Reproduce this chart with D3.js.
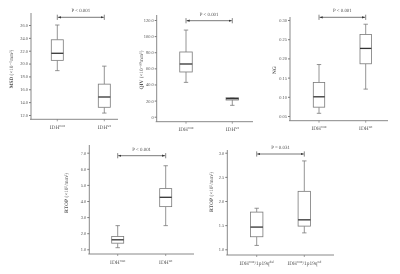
<!DOCTYPE html>
<html>
<head>
<meta charset="utf-8">
<script src="https://cdn.jsdelivr.net/npm/d3@7"></script>
<style>
  body { margin: 0; background: #fff; }
  svg { display: block; will-change: transform; }
  text { font-family: "Liberation Serif", "DejaVu Serif", serif; fill: #555; text-rendering: geometricPrecision; }
</style>
</head>
<body>
<script>
// box stats per panel: [whiskerLow, q1, median, q3, whiskerHigh]
var msdBoxes  = [[18.9, 20.5, 21.6, 23.7, 26.0], [12.3, 13.2, 14.8, 16.8, 19.6]];
var qivBoxes  = [[42.6, 55.5, 65.4, 80.3, 107.5], [14.1, 20.7, 22.4, 23.6, 23.6]];
var ngBoxes   = [[0.057, 0.073, 0.100, 0.137, 0.184], [0.120, 0.186, 0.226, 0.262, 0.289]];
var rtopBoxes = [[1.10, 1.38, 1.59, 1.79, 2.47], [2.47, 3.65, 4.23, 4.77, 6.19]];
var codelBoxes = [[1.08, 1.26, 1.46, 1.77, 1.85], [1.34, 1.48, 1.61, 2.20, 2.83]];

var msdTicks  = [12, 14, 16, 18, 20, 22, 24, 26];
var qivTicks  = [0, 20, 40, 60, 80, 100, 120];
var ngTicks   = [0.05, 0.10, 0.15, 0.20, 0.25, 0.30];
var rtopTicks = [1, 2, 3, 4, 5, 6, 7];
var codelTicks = [1.0, 1.5, 2.0, 2.5, 3.0];

var idhCats = [["IDH", "mut"], ["IDH", "wt"]];
var codelCats = [["IDH", "mut", "/1p19q", "del"], ["IDH", "mut", "/1p19q", "nd"]];

var pLabels = ["P < 0.001", "P < 0.001", "P < 0.001", "P < 0.001", "P = 0.031"];

var width = 400, height = 274;
var svg = d3.select("body").append("svg")
    .attr("width", width)
    .attr("height", height);

var defs = svg.append("defs");
defs.append("marker").attr("id", "ah")
    .attr("viewBox", "0 0 10 10").attr("refX", 10).attr("refY", 5)
    .attr("markerWidth", 4).attr("markerHeight", 4)
    .attr("orient", "auto-start-reverse")
  .append("path").attr("d", "M0,1.5L10,5L0,8.5Z").attr("fill", "#333");

var grey = "#7a7a7a";

function drawPanel(p) {
    var g = svg.append("g");
    var y = d3.scaleLinear().domain(p.domain).range(p.range);
    var x = d3.scalePoint().domain([0, 1]).range(p.cx);

    // y axis
    var yAx = g.append("g")
        .attr("transform", "translate(" + p.x0 + ",0)")
        .call(d3.axisLeft(y).tickValues(p.ticks).tickSize(2).tickPadding(1).tickFormat(p.fmt));
    yAx.select(".domain").remove();
    yAx.selectAll("line").attr("stroke", grey);
    yAx.selectAll("text").style("font-size", "4.4px").attr("fill", "#666");
    g.append("line").attr("x1", p.x0).attr("x2", p.x0)
        .attr("y1", p.yTop).attr("y2", p.axisY)
        .attr("stroke", grey).attr("stroke-width", 0.9);

    // x axis
    g.append("line").attr("x1", p.x0 - 1).attr("x2", p.x1)
        .attr("y1", p.axisY).attr("y2", p.axisY)
        .attr("stroke", grey).attr("stroke-width", 0.9);
    [0, 1].forEach(function(i){
        g.append("line").attr("x1", x(i)).attr("x2", x(i))
            .attr("y1", p.axisY).attr("y2", p.axisY + 2)
            .attr("stroke", grey).attr("stroke-width", 0.7);
        var t = g.append("text").attr("x", x(i)).attr("y", p.axisY + 9.5)
            .attr("text-anchor", "middle").style("font-size", "5.4px");
        var parts = p.cats[i];
        for (var k = 0; k < parts.length; k++) {
            var sup = k % 2 === 1;
            t.append("tspan").text(parts[k])
                .style("font-size", sup ? "3.6px" : "5.4px")
                .attr("dy", sup ? -1.8 : (k > 0 ? 1.8 : 0));
        }
    });

    // boxes
    var bw = p.bw;
    p.boxes.forEach(function(b, i){
        var cx = x(i);
        var bg = g.append("g").attr("stroke", grey).attr("fill", "none").attr("stroke-width", 0.8);
        bg.append("line").attr("x1", cx).attr("x2", cx).attr("y1", y(b[0])).attr("y2", y(b[1]));
        bg.append("line").attr("x1", cx).attr("x2", cx).attr("y1", y(b[3])).attr("y2", y(b[4]));
        bg.append("line").attr("x1", cx - 2.2).attr("x2", cx + 2.2).attr("y1", y(b[0])).attr("y2", y(b[0]));
        bg.append("line").attr("x1", cx - 2.2).attr("x2", cx + 2.2).attr("y1", y(b[4])).attr("y2", y(b[4]));
        bg.append("rect").attr("x", cx - bw / 2).attr("width", bw)
            .attr("y", y(b[3])).attr("height", y(b[1]) - y(b[3]))
            .attr("fill", "#fff");
        bg.append("line").attr("x1", cx - bw / 2).attr("x2", cx + bw / 2)
            .attr("y1", y(b[2])).attr("y2", y(b[2]))
            .attr("stroke", "#333").attr("stroke-width", 1.3);
    });

    // significance bracket
    var a0 = x(0), a1 = x(1);
    g.append("line").attr("x1", a0 + 0.5).attr("x2", a1 - 0.5)
        .attr("y1", p.arrowY).attr("y2", p.arrowY)
        .attr("stroke", "#555").attr("stroke-width", 0.8)
        .attr("marker-start", "url(#ah)").attr("marker-end", "url(#ah)");
    [a0, a1].forEach(function(ax){
        g.append("line").attr("x1", ax).attr("x2", ax)
            .attr("y1", p.arrowY - 2.6).attr("y2", p.arrowY + 2.6)
            .attr("stroke", "#555").attr("stroke-width", 0.7);
    });
    g.append("text").attr("x", (a0 + a1) / 2).attr("y", p.arrowY - 5)
        .attr("text-anchor", "middle").style("font-size", "4.9px").text(p.pText);

    // y label
    var yl = g.append("text")
        .attr("transform", "translate(" + p.lx + "," + p.ly + ") rotate(-90)")
        .attr("text-anchor", "middle").style("font-size", "5.2px");
    yl.append("tspan").text(p.yName).style("font-weight", "bold");
    if (p.yUnit) yl.append("tspan").text(p.yUnit);
}

var f1 = d3.format(".1f"), f2 = d3.format(".2f");

drawPanel({boxes: msdBoxes, ticks: msdTicks, fmt: f1, cats: idhCats, pText: pLabels[0],
    domain: [12, 26], range: [115, 25], x0: 31, x1: 118, yTop: 13, axisY: 119.3,
    cx: [57.3, 104.3], bw: 12, arrowY: 17.3, lx: 13, ly: 69,
    yName: "MSD", yUnit: " (×10⁻⁵mm²)"});

drawPanel({boxes: qivBoxes, ticks: qivTicks, fmt: function(d){ return d === 0 ? "0" : f1(d); },
    cats: idhCats, pText: pLabels[1],
    domain: [0, 120], range: [116.7, 20], x0: 156.7, x1: 253, yTop: 15, axisY: 121.7,
    cx: [186, 232.3], bw: 12.5, arrowY: 20.7, lx: 143, ly: 70,
    yName: "QIV", yUnit: " (×10⁻¹⁰mm⁵)"});

drawPanel({boxes: ngBoxes, ticks: ngTicks, fmt: f2, cats: idhCats, pText: pLabels[2],
    domain: [0.05, 0.30], range: [116, 20], x0: 290, x1: 388, yTop: 17, axisY: 120.7,
    cx: [319, 365.7], bw: 11.4, arrowY: 17.3, lx: 276, ly: 70,
    yName: "NG", yUnit: ""});

drawPanel({boxes: rtopBoxes, ticks: rtopTicks, fmt: f1, cats: idhCats, pText: pLabels[3],
    domain: [1, 7], range: [249.3, 152.7], x0: 89.3, x1: 194, yTop: 145, axisY: 254,
    cx: [117.7, 165.7], bw: 12, arrowY: 155.7, lx: 68, ly: 193,
    yName: "RTOP", yUnit: " (×10⁵/mm³)"});

drawPanel({boxes: codelBoxes, ticks: codelTicks, fmt: f1, cats: codelCats, pText: pLabels[4],
    domain: [1, 3], range: [249.3, 152.7], x0: 227.3, x1: 334, yTop: 150, axisY: 255,
    cx: [256.7, 304.3], bw: 12.4, arrowY: 154, lx: 213, ly: 192,
    yName: "RTOP", yUnit: " (×10⁵/mm³)"});
</script>
</body>
</html>
